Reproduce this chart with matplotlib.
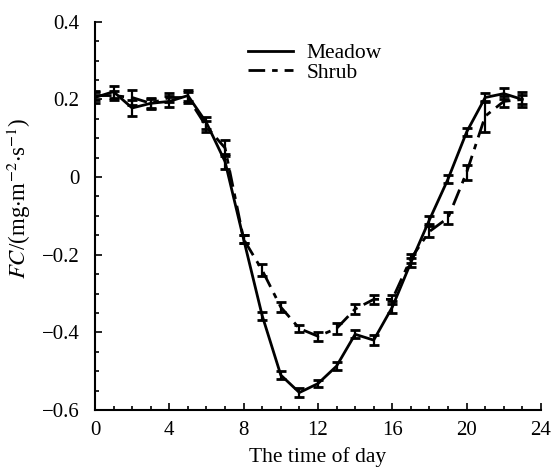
import matplotlib
matplotlib.use("Agg")
import matplotlib.pyplot as plt
from matplotlib.ticker import MultipleLocator, FuncFormatter
from matplotlib.lines import Line2D

plt.rcParams['font.family'] = ['Liberation Serif', 'DejaVu Serif']
plt.rcParams['mathtext.fontset'] = 'stix'

hours = list(range(24))
meadow = [0.205, 0.22, 0.178, 0.19, 0.195, 0.21, 0.14, 0.04, -0.16, -0.357, -0.51, -0.555,
          -0.532, -0.487, -0.405, -0.42, -0.335, -0.22, -0.11, -0.005, 0.116, 0.205, 0.215, 0.20]
meadow_err = [0.015, 0.015, 0.02, 0.015, 0.015, 0.015, 0.015, 0.02, 0.01, 0.01, 0.01, 0.012,
              0.01, 0.01, 0.01, 0.012, 0.015, 0.012, 0.01, 0.01, 0.01, 0.012, 0.015, 0.02]
shrub = [0.21, 0.21, 0.205, 0.19, 0.205, 0.205, 0.13, 0.075, -0.16, -0.24, -0.335, -0.39,
         -0.41, -0.39, -0.34, -0.315, -0.315, -0.21, -0.14, -0.105, 0.012, 0.157, 0.195, 0.20]
shrub_err = [0.012, 0.012, 0.02, 0.012, 0.012, 0.015, 0.015, 0.02, 0.01, 0.015, 0.012, 0.01,
             0.012, 0.015, 0.012, 0.012, 0.012, 0.012, 0.015, 0.015, 0.02, 0.04, 0.015, 0.012]

shrub_style = (0, (6, 2.5, 2, 2.5))

fig = plt.figure(figsize=(5.52, 4.74), dpi=100)
ax = fig.add_axes([0.172, 0.135, 0.808, 0.819])

ax.errorbar(hours, meadow, yerr=meadow_err, color='black', lw=2.0, capsize=3.5,
            elinewidth=1.6, capthick=2.0)
ax.errorbar(hours, shrub, yerr=shrub_err, color='black', lw=2.0, capsize=3.5,
            elinewidth=1.6, capthick=2.0, linestyle=shrub_style)

ax.set_xlim(0, 24)
ax.set_ylim(-0.6, 0.4)
ax.xaxis.set_major_locator(MultipleLocator(4))
ax.xaxis.set_minor_locator(MultipleLocator(1))
ax.yaxis.set_major_locator(MultipleLocator(0.2))
ax.yaxis.set_minor_locator(MultipleLocator(0.05))

def fmt(v, pos):
    if abs(v) < 1e-9:
        return '0'
    return ('%.1f' % v).replace('-', '\u2212')

ax.yaxis.set_major_formatter(FuncFormatter(fmt))
ax.tick_params(which='both', direction='in', labelsize=15, width=1.2)
ax.tick_params(which='major', length=5)
ax.tick_params(which='minor', length=3)
ax.tick_params(axis='x', which='major', pad=8)
ax.tick_params(axis='y', which='major', pad=11)
ax.spines['top'].set_visible(False)
ax.spines['right'].set_visible(False)
for s in ('left', 'bottom'):
    ax.spines[s].set_linewidth(1.5)

ax.set_xlabel('The time of day', fontsize=15.5, labelpad=5)
ax.set_ylabel(r'$\mathit{FC}$/(mg$\cdot$m$^{-2}$$\cdot$s$^{-1}$)', fontsize=16.5)
ax.yaxis.set_label_coords(-0.14, 0.545)

handles = [Line2D([], [], color='black', lw=2.0),
           Line2D([], [], color='black', lw=2.0, linestyle=shrub_style)]
ax.legend(handles, ['Meadow', 'Shrub'], loc='upper left', bbox_to_anchor=(0.3, 0.995),
          frameon=False, fontsize=15.5, handlelength=2.1, handletextpad=0.6,
          labelspacing=-0.03)

fig.savefig('out.png', dpi=100)
